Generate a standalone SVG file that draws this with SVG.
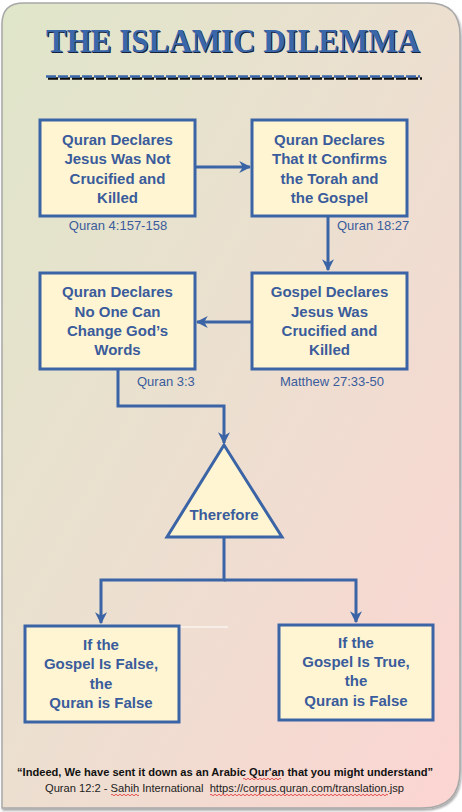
<svg xmlns="http://www.w3.org/2000/svg" width="462" height="812" viewBox="0 0 462 812">
<defs>
<linearGradient id="bg" x1="0" y1="0" x2="1" y2="1">
<stop offset="0" stop-color="#dfe6c9"/>
<stop offset="0.5" stop-color="#ecdfd0"/>
<stop offset="1" stop-color="#fcd5d2"/>
</linearGradient>
<marker id="ah" viewBox="0 0 10 10" refX="9" refY="5" markerWidth="4" markerHeight="4" markerUnits="strokeWidth" orient="auto">
<path d="M0,0 L10,5 L0,10 L3,5 Z" fill="#3a64a5"/>
</marker>
<filter id="sh" x="-5%" y="-5%" width="110%" height="110%">
<feDropShadow dx="1" dy="2" stdDeviation="1.2" flood-color="#000" flood-opacity="0.35"/>
</filter>
</defs>
<style>
.box{fill:#fff5d2;stroke:#3a64a5;stroke-width:3}
.t{font-family:"Liberation Sans",Arial,sans-serif;font-weight:bold;font-size:15px;fill:#3a5c9c;text-anchor:middle}
.ref{font-family:"Liberation Sans",Arial,sans-serif;font-size:13px;fill:#3a5c9c}
.c{fill:none;stroke:#3a64a5;stroke-width:3}
.sq{fill:none;stroke:#e03030;stroke-width:0.8}
</style>
<path d="M2,808 L2,24 Q2,3 24,3 L428,3 Q460,3 460,35 L460,770 Q460,808 422,808 Z" fill="url(#bg)" stroke="#a8a8a8" stroke-width="1.5" filter="url(#sh)"/>
<g id="title">
<text x="234" y="53" font-family="'Liberation Serif',serif" font-weight="bold" font-size="34" fill="#15233f" text-anchor="middle" textLength="374" lengthAdjust="spacingAndGlyphs">THE ISLAMIC DILEMMA</text>
<text x="233" y="52" font-family="'Liberation Serif',serif" font-weight="bold" font-size="34" fill="#3a66aa" text-anchor="middle" textLength="374" lengthAdjust="spacingAndGlyphs">THE ISLAMIC DILEMMA</text>
<line x1="48" y1="78.5" x2="422" y2="78.5" stroke="#0d0d0d" stroke-width="2.5" stroke-dasharray="10,2"/>
<line x1="46" y1="76.5" x2="420" y2="76.5" stroke="#3a66aa" stroke-width="2.5" stroke-dasharray="10,2"/>
</g>
<g id="connectors">
<line class="c" x1="195" y1="167" x2="250" y2="167" marker-end="url(#ah)"/>
<line class="c" x1="328" y1="216" x2="328" y2="270" marker-end="url(#ah)"/>
<line class="c" x1="252" y1="322" x2="197" y2="322" marker-end="url(#ah)"/>
<polyline class="c" points="118,369 118,406 224,406 224,443" marker-end="url(#ah)"/>
<polyline class="c" points="224,537 224,580 101,580 101,623" marker-end="url(#ah)"/>
<polyline class="c" points="224,580 356,580 356,622" marker-end="url(#ah)"/>
<line x1="179" y1="627" x2="228" y2="627" stroke="#ffffff" stroke-width="1"/>
</g>
<g id="n1">
<rect class="box" x="40" y="120" width="155" height="96"/>
<text class="t" x="117.5" y="145">Quran Declares</text>
<text class="t" x="117.5" y="164">Jesus Was Not</text>
<text class="t" x="117.5" y="183.5">Crucified and</text>
<text class="t" x="117.5" y="203">Killed</text>
<text class="ref" x="118" y="230" text-anchor="middle">Quran 4:157-158</text>
</g>
<g id="n2">
<rect class="box" x="252" y="120" width="155" height="96"/>
<text class="t" x="329.5" y="145">Quran Declares</text>
<text class="t" x="329.5" y="164">That It Confirms</text>
<text class="t" x="329.5" y="183.5">the Torah and</text>
<text class="t" x="329.5" y="203">the Gospel</text>
<text class="ref" x="337" y="230">Quran 18:27</text>
</g>
<g id="n3">
<rect class="box" x="40" y="273" width="155" height="96"/>
<text class="t" x="117.5" y="297">Quran Declares</text>
<text class="t" x="117.5" y="317">No One Can</text>
<text class="t" x="117.5" y="336">Change God’s</text>
<text class="t" x="117.5" y="355">Words</text>
<text class="ref" x="137" y="386">Quran 3:3</text>
</g>
<g id="n4">
<rect class="box" x="252" y="273" width="155" height="96"/>
<text class="t" x="329.5" y="297">Gospel Declares</text>
<text class="t" x="329.5" y="317">Jesus Was</text>
<text class="t" x="329.5" y="336">Crucified and</text>
<text class="t" x="329.5" y="355">Killed</text>
<text class="ref" x="332" y="386" text-anchor="middle">Matthew 27:33-50</text>
</g>
<g id="n5">
<polygon points="224,445 167,537 282,537" fill="#fff5d2" stroke="#3a64a5" stroke-width="3" stroke-linejoin="miter"/>
<text class="t" x="224" y="520">Therefore</text>
</g>
<g id="n6">
<rect class="box" x="25" y="626" width="154" height="96"/>
<text class="t" x="101" y="650">If the</text>
<text class="t" x="101" y="669">Gospel Is False,</text>
<text class="t" x="101" y="688.5">the</text>
<text class="t" x="101" y="707.5">Quran is False</text>
</g>
<g id="n7">
<rect class="box" x="279" y="625" width="154" height="95"/>
<text class="t" x="356" y="648">If the</text>
<text class="t" x="356" y="667">Gospel Is True,</text>
<text class="t" x="356" y="686">the</text>
<text class="t" x="356" y="706">Quran is False</text>
</g>
<g id="footer">
<text x="225" y="776" font-family="'Liberation Sans',Arial,sans-serif" font-weight="bold" font-size="11" fill="#111" text-anchor="middle" textLength="416" lengthAdjust="spacingAndGlyphs">“Indeed, We have sent it down as an Arabic Qur'an that you might understand”</text>
<text x="45" y="792" xml:space="preserve" style="white-space:pre" font-family="'Liberation Sans',Arial,sans-serif" font-size="11" fill="#222" textLength="359" lengthAdjust="spacingAndGlyphs">Quran 12:2 - Sahih International  https://corpus.quran.com/translation.jsp</text>
<path class="sq" d="M243,779 q1,-1.5 2,0 t2,0 t2,0 t2,0 t2,0 t2,0 t2,0 t2,0 t2,0 t2,0 t2,0 t2,0 t2,0 t2,0 t2,0 t2,0 t2,0 t2,0 t2,0"/>
<path class="sq" d="M111,795 q1,-1.5 2,0 t2,0 t2,0 t2,0 t2,0 t2,0 t2,0 t2,0 t2,0 t2,0 t2,0 t2,0 t2,0 t2,0"/>
<path class="sq" d="M210,795 q1,-1.5 2,0 t2,0 t2,0 t2,0 t2,0 t2,0 t2,0 t2,0 t2,0 t2,0 t2,0 t2,0 t2,0 t2,0 t2,0 t2,0 t2,0 t2,0 t2,0 t2,0 t2,0 t2,0 t2,0 t2,0 t2,0 t2,0 t2,0 t2,0 t2,0 t2,0 t2,0 t2,0 t2,0 t2,0 t2,0 t2,0 t2,0 t2,0 t2,0 t2,0 t2,0 t2,0 t2,0 t2,0 t2,0 t2,0 t2,0 t2,0 t2,0 t2,0 t2,0 t2,0 t2,0 t2,0 t2,0 t2,0 t2,0 t2,0 t2,0 t2,0 t2,0 t2,0 t2,0 t2,0 t2,0 t2,0 t2,0 t2,0 t2,0 t2,0 t2,0 t2,0 t2,0 t2,0 t2,0 t2,0 t2,0 t2,0 t2,0 t2,0 t2,0 t2,0 t2,0 t2,0 t2,0 t2,0 t2,0 t2,0 t2,0"/>
</g>
</svg>
